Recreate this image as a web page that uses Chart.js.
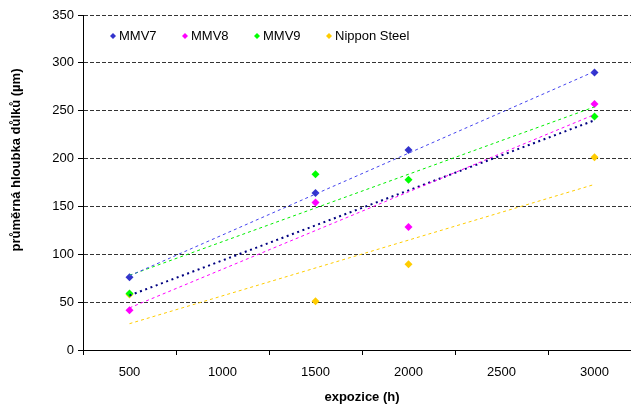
<!DOCTYPE html>
<html>
<head>
<meta charset="utf-8">
<script src="https://cdn.jsdelivr.net/npm/chart.js@4.4.1/dist/chart.umd.min.js"></script>
<style>
  html, body { margin: 0; padding: 0; overflow: hidden; background: #fff; }
  #wrap { width: 645px; height: 405px; }
</style>
</head>
<body>
<div id="wrap"><canvas id="chart"></canvas></div>
<script>
const categories = ['500', '1000', '1500', '2000', '2500', '3000'];
const seriesNames = ['MMV7', 'MMV8', 'MMV9', 'Nippon Steel'];
const expozice = ['500', '1500', '2000', '3000'];
const mmv7 = [76, 164, 209, 290];
const mmv8 = [41.5, 154, 128.5, 257];
const mmv9 = [59, 183.5, 178, 244];
const nippon = [58, 51, 89.5, 201.5];

// trendline ends, at 500 h and 3000 h
const trendX = ['500', '3000'];
const trendMmv7 = [77.5, 291];
const trendMmv8 = [44, 246];
const trendMmv9 = [78, 254];
const trendNippon = [27.5, 173];
const trendAll = [57, 240];

const yTitle = 'průměrná hloubka důlků (µm)';
const xTitle = 'expozice (h)';

const colors = ['#3333CC', '#FF00FF', '#00FF00', '#FFCC00'];
const FONT = "'Liberation Sans', Arial, sans-serif";

const pts = (xs, ys) => xs.map((x, i) => ({ x: x, y: ys[i] }));

const pointSet = (label, ys, color) => ({
  label: label,
  data: pts(expozice, ys),
  showLine: false,
  pointStyle: 'rectRot',
  pointRadius: 4,
  pointBorderWidth: 0,
  backgroundColor: color,
  borderColor: color,
  order: 2
});

const trendSet = (ys, color, width, dash) => ({
  label: 'trend',
  data: pts(trendX, ys),
  borderColor: color,
  borderWidth: width,
  borderDash: dash,
  pointRadius: 0,
  fill: false,
  order: 1
});

// legend inside the plot area and the y title, placed like the original
const extras = {
  id: 'extras',
  afterDraw(chart) {
    const { ctx, chartArea } = chart;
    ctx.save();
    ctx.font = '13px ' + FONT;
    ctx.textBaseline = 'middle';
    seriesNames.forEach((name, i) => {
      const cx = chartArea.left + 30 + i * 72;
      const cy = chartArea.top + 21;
      ctx.beginPath();
      ctx.moveTo(cx, cy - 3);
      ctx.lineTo(cx + 3, cy);
      ctx.lineTo(cx, cy + 3);
      ctx.lineTo(cx - 3, cy);
      ctx.closePath();
      ctx.fillStyle = colors[i];
      ctx.fill();
      ctx.fillStyle = '#000';
      ctx.fillText(name, cx + 6, cy + 0.5);
    });

    ctx.translate(16, 160);
    ctx.rotate(-Math.PI / 2);
    ctx.font = 'bold 13px ' + FONT;
    ctx.textAlign = 'center';
    ctx.fillStyle = '#000';
    ctx.fillText(yTitle, 0, 0);
    ctx.restore();
  }
};

new Chart(document.getElementById('chart').getContext('2d'), {
  type: 'line',
  data: {
    labels: categories,
    datasets: [
      pointSet(seriesNames[0], mmv7, colors[0]),
      pointSet(seriesNames[1], mmv8, colors[1]),
      pointSet(seriesNames[2], mmv9, colors[2]),
      pointSet(seriesNames[3], nippon, colors[3]),
      trendSet(trendMmv7, '#4444EE', 1, [3, 3]),
      trendSet(trendMmv8, '#FF00FF', 1, [3, 3]),
      trendSet(trendMmv9, '#00EE00', 1, [3, 3]),
      trendSet(trendNippon, '#FFCC00', 1, [3, 3]),
      trendSet(trendAll, '#000080', 2, [2, 3.6])
    ]
  },
  options: {
    responsive: true,
    maintainAspectRatio: false,
    animation: false,
    layout: { padding: { top: 15, right: 0, bottom: 0, left: 0 } },
    scales: {
      x: {
        type: 'category',
        offset: true,
        afterFit: (scale) => { scale.height = 55; },
        grid: {
          display: true,
          offset: true,
          drawOnChartArea: false,
          drawTicks: true,
          tickLength: 5,
          tickColor: '#000'
        },
        border: { display: true, color: '#000', width: 1 },
        ticks: {
          color: '#000',
          padding: 10,
          maxRotation: 0,
          font: { family: FONT, size: 13 }
        },
        title: {
          display: true,
          text: xTitle,
          color: '#000',
          padding: { top: 0, bottom: 0 },
          font: { family: FONT, size: 13, weight: 'bold' }
        }
      },
      y: {
        min: 0,
        max: 350,
        afterFit: (scale) => { scale.width = 83; },
        grid: {
          color: '#333',
          lineWidth: 1,
          drawTicks: true,
          tickLength: 5,
          tickColor: '#000',
          tickBorderDash: []
        },
        border: { display: true, color: '#000', width: 1, dash: [4, 2] },
        ticks: {
          stepSize: 50,
          color: '#000',
          padding: 4,
          font: { family: FONT, size: 13 }
        },
        title: { display: false }
      }
    },
    plugins: {
      legend: { display: false },
      tooltip: { enabled: false }
    }
  },
  plugins: [extras]
});
</script>
</body>
</html>
